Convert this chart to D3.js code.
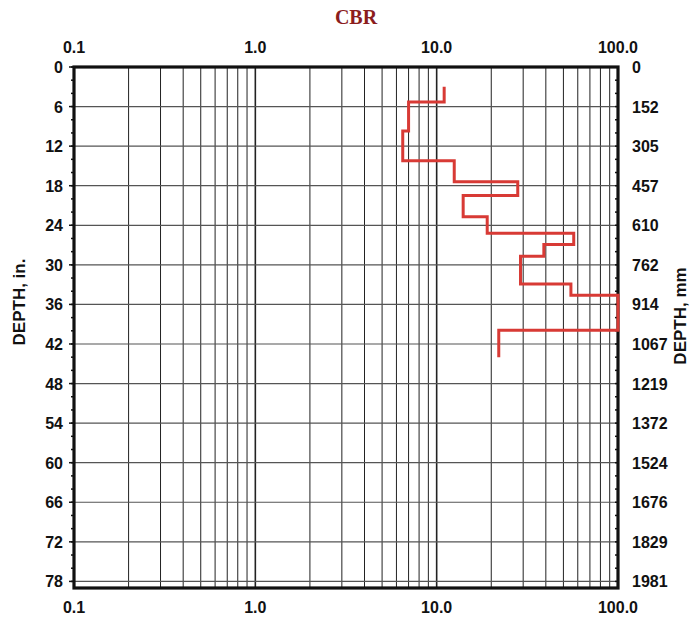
<!DOCTYPE html>
<html>
<head>
<meta charset="utf-8">
<script src="https://cdn.jsdelivr.net/npm/d3@7"></script>
<style>
  body { margin: 0; background: #fff; }
  text { font-family: "Liberation Sans", Arial, sans-serif; font-weight: bold; }
</style>
</head>
<body>
<script>
// CBR tick labels (top and bottom)
var cbrTicks = [0.1, 1, 10, 100];
var cbrTickLabels = ["0.1", "1.0", "10.0", "100.0"];
// depth ticks in inches, and matching mm labels on the right
var depthTicks = [0, 6, 12, 18, 24, 30, 36, 42, 48, 54, 60, 66, 72, 78];
var mmLabels = ["0", "152", "305", "457", "610", "762", "914", "1067", "1219", "1372", "1524", "1676", "1829", "1981"];

// layer boundaries (in.) and CBR of each layer
var layerDepths = [3.0, 5.3, 9.7, 14.2, 17.4, 19.5, 22.7, 25.2, 26.9, 28.7, 32.9, 34.6, 39.9, 44.0];
var layerCbr = [11, 7, 6.5, 12.5, 28, 14, 19, 57, 39, 29, 55, 100, 22];

var W = 692, H = 619;
var svg = d3.select("body").append("svg")
  .attr("width", W)
  .attr("height", H);

var x = d3.scaleLog().domain([0.1, 100]).range([74, 618]);
var y = d3.scaleLinear().domain([0, 79]).range([67, 588]);

// vertical grid lines, 1..9 in every decade
var gridX = [];
for (var k = -1; k <= 1; k++) {
  for (var m = 1; m <= 9; m++) {
    var v = m * Math.pow(10, k);
    if (v > 0.1 && v < 100) gridX.push(v);
  }
}

svg.append("g").selectAll("line")
  .data(gridX)
  .enter().append("line")
  .attr("x1", function (d) { return x(d); })
  .attr("x2", function (d) { return x(d); })
  .attr("y1", y(0))
  .attr("y2", y(79))
  .style("stroke", "#222")
  .style("stroke-width", function (d) { return (d == 1 || d == 10) ? 1.6 : 1; });

svg.append("g").selectAll("line")
  .data(depthTicks.filter(function (d) { return d > 0; }))
  .enter().append("line")
  .attr("x1", x(0.1))
  .attr("x2", x(100))
  .attr("y1", function (d) { return y(d); })
  .attr("y2", function (d) { return y(d); })
  .style("stroke", "#555")
  .style("stroke-width", 1.2);

// minor ticks every 2 in
var minor = d3.range(0, 79, 2);
svg.append("g").selectAll("line")
  .data(minor)
  .enter().append("line")
  .attr("x1", x(0.1) - 3)
  .attr("x2", x(0.1))
  .attr("y1", function (d) { return y(d); })
  .attr("y2", function (d) { return y(d); })
  .style("stroke", "#111").style("stroke-width", 1.5);
svg.append("g").selectAll("line")
  .data(minor)
  .enter().append("line")
  .attr("x1", x(100) - 3)
  .attr("x2", x(100))
  .attr("y1", function (d) { return y(d); })
  .attr("y2", function (d) { return y(d); })
  .style("stroke", "#111").style("stroke-width", 1.5);

// major ticks on the left
svg.append("g").selectAll("line")
  .data(depthTicks)
  .enter().append("line")
  .attr("x1", x(0.1) - 5)
  .attr("x2", x(0.1))
  .attr("y1", function (d) { return y(d); })
  .attr("y2", function (d) { return y(d); })
  .style("stroke", "#111").style("stroke-width", 1.5);

// frame
svg.append("rect")
  .attr("x", x(0.1))
  .attr("y", y(0))
  .attr("width", x(100) - x(0.1))
  .attr("height", y(79) - y(0))
  .style("fill", "none")
  .style("stroke", "#111")
  .style("stroke-width", 3.2);

// CBR profile as a step line
var pts = [];
for (var i = 0; i < layerCbr.length; i++) {
  pts.push([layerCbr[i], layerDepths[i]]);
  pts.push([layerCbr[i], layerDepths[i + 1]]);
}
var line = d3.line()
  .x(function (d) { return x(d[0]); })
  .y(function (d) { return y(d[1]); });

svg.append("path")
  .attr("d", line(pts))
  .style("fill", "none")
  .style("stroke", "#d83a35")
  .style("stroke-width", 3);

// tick labels
svg.append("g").selectAll("text")
  .data(cbrTicks)
  .enter().append("text")
  .attr("x", function (d) { return x(d); })
  .attr("y", 53)
  .attr("text-anchor", "middle")
  .style("font-size", "16px")
  .style("fill", "#111")
  .text(function (d, i) { return cbrTickLabels[i]; });

svg.append("g").selectAll("text")
  .data(cbrTicks)
  .enter().append("text")
  .attr("x", function (d) { return x(d); })
  .attr("y", 613)
  .attr("text-anchor", "middle")
  .style("font-size", "16px")
  .style("fill", "#111")
  .text(function (d, i) { return cbrTickLabels[i]; });

svg.append("g").selectAll("text")
  .data(depthTicks)
  .enter().append("text")
  .attr("x", 63)
  .attr("y", function (d) { return y(d) + 6; })
  .attr("text-anchor", "end")
  .style("font-size", "16px")
  .style("fill", "#111")
  .text(function (d) { return d; });

svg.append("g").selectAll("text")
  .data(depthTicks)
  .enter().append("text")
  .attr("x", 632)
  .attr("y", function (d) { return y(d) + 6; })
  .attr("text-anchor", "start")
  .style("font-size", "16px")
  .style("fill", "#111")
  .text(function (d, i) { return mmLabels[i]; });

// titles
svg.append("text")
  .attr("x", 356)
  .attr("y", 24)
  .attr("text-anchor", "middle")
  .style("font-family", "'Liberation Serif', 'DejaVu Serif', serif")
  .style("font-size", "20px")
  .style("fill", "#8b1d1d")
  .text("CBR");

svg.append("text")
  .attr("transform", "translate(25,302) rotate(-90)")
  .attr("text-anchor", "middle")
  .style("font-size", "17px")
  .style("fill", "#111")
  .text("DEPTH, in.");

svg.append("text")
  .attr("transform", "translate(686,316) rotate(-90)")
  .attr("text-anchor", "middle")
  .style("font-size", "17px")
  .style("fill", "#111")
  .text("DEPTH, mm");
</script>
</body>
</html>
